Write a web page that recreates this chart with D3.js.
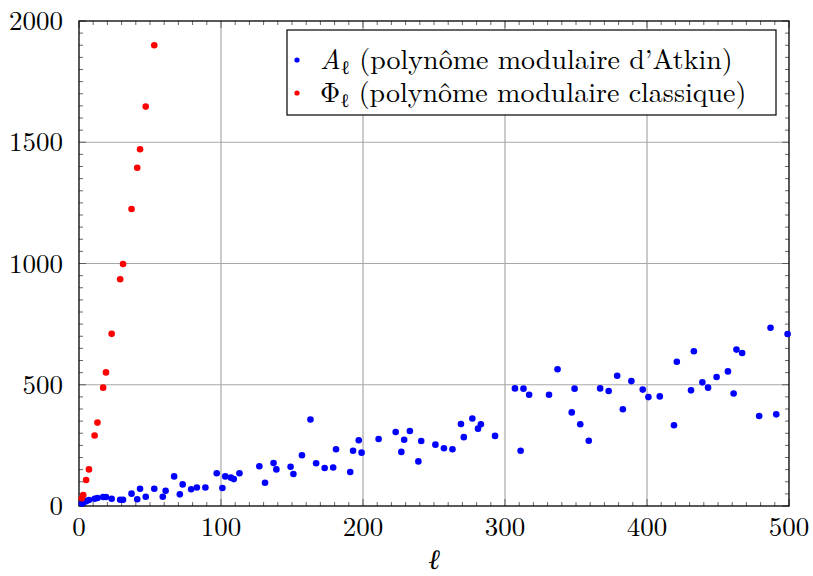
<!DOCTYPE html>
<html><head><meta charset="utf-8">
<script src="https://cdn.jsdelivr.net/npm/d3@7"></script>
<style>body{margin:0;background:#fff}svg{display:block}</style>
</head><body>
<svg id="c" width="813" height="576"></svg>
<script>
const atkinL = [2,3,5,7,11,13,17,19,23,29,
  31,37,41,43,47,53,59,61,67,71,
  73,79,83,89,97,101,103,107,109,113,
  127,131,137,139,149,151,157,163,167,173,
  179,181,191,193,197,199,211,223,227,229,
  233,239,241,251,257,263,269,271,277,281,
  283,293,307,311,313,317,331,337,347,349,
  353,359,367,373,379,383,389,397,401,409,
  419,421,431,433,439,443,449,457,461,463,
  467,479,487,491,499];
const atkinV = [10,14,20,25,30,33,37,37,30,26,
  26,51,28,71,38,71,38,63,122,48,
  89,69,76,76,135,74,122,117,111,135,
  164,96,177,151,162,132,209,357,176,157,
  159,234,140,228,271,220,276,305,223,273,
  309,184,268,253,238,234,338,284,361,319,
  337,289,485,228,484,459,459,564,386,484,
  337,269,485,474,537,399,515,480,449,452,
  333,595,477,638,510,488,532,555,464,645,
  631,371,735,378,709];
const phiL = [2,3,5,7,11,13,17,19,23,29,31,37,41,43,47,53];
const phiV = [32,45,107,151,291,344,488,551,710,935,998,1225,1395,1471,1647,1900];
const xTicks = [0,100,200,300,400,500];
const yTicks = [0,500,1000,1500,2000];

const svg = d3.select("#c");
const L = 79, R = 789, T = 21, B = 506;
const x = d3.scaleLinear().domain([0,500]).range([L,R]);
const y = d3.scaleLinear().domain([0,2000]).range([B,T]);
const font = "'Latin Modern Roman', 'Liberation Serif', serif";

// grid
const g = svg.append("g");
g.selectAll(".gx").data(xTicks.slice(1,-1)).join("line")
  .attr("x1",d=>x(d)).attr("x2",d=>x(d)).attr("y1",T).attr("y2",B)
  .attr("stroke","#a8a8a8").attr("stroke-width",1.2);
g.selectAll(".gy").data(yTicks.slice(1,-1)).join("line")
  .attr("y1",d=>y(d)).attr("y2",d=>y(d)).attr("x1",L).attr("x2",R)
  .attr("stroke","#a8a8a8").attr("stroke-width",1.2);

// ticks (inside, mirrored)
const xMinor = d3.range(0,501,10), yMinor = d3.range(0,2001,50);
const tk = svg.append("g").attr("stroke","#555").attr("stroke-width",0.9);
xMinor.forEach(v=>{
  const len = v%100===0 ? 7 : 4;
  tk.append("line").attr("x1",x(v)).attr("x2",x(v)).attr("y1",B).attr("y2",B-len);
  tk.append("line").attr("x1",x(v)).attr("x2",x(v)).attr("y1",T).attr("y2",T+len);
});
yMinor.forEach(v=>{
  const len = v%500===0 ? 7 : 4;
  tk.append("line").attr("y1",y(v)).attr("y2",y(v)).attr("x1",L).attr("x2",L+len);
  tk.append("line").attr("y1",y(v)).attr("y2",y(v)).attr("x1",R).attr("x2",R-len);
});

// frame
svg.append("rect").attr("x",L).attr("y",T).attr("width",R-L).attr("height",B-T)
  .attr("fill","none").attr("stroke","#000").attr("stroke-width",1.3);

// tick labels
svg.selectAll(".xl").data(xTicks).join("text")
  .attr("x",d=>x(d)).attr("y",B+30).attr("text-anchor","middle")
  .attr("font-family",font).attr("font-size",27).text(d=>d);
svg.selectAll(".yl").data(yTicks).join("text")
  .attr("x",L-16).attr("y",d=>y(d)+9).attr("text-anchor","end")
  .attr("font-family",font).attr("font-size",27).text(d=>d);

// axis label
svg.append("text").attr("x",(L+R)/2).attr("y",569).attr("text-anchor","middle")
  .attr("font-family",font).attr("font-size",28).attr("font-style","italic").text("ℓ");

// points
svg.append("g").selectAll("circle").data(atkinL.map((l,i)=>[l,atkinV[i]])).join("circle")
  .attr("cx",d=>x(d[0])).attr("cy",d=>y(d[1])).attr("r",3.3).attr("fill","#0000ff");
svg.append("g").selectAll("circle").data(phiL.map((l,i)=>[l,phiV[i]])).join("circle")
  .attr("cx",d=>x(d[0])).attr("cy",d=>y(d[1])).attr("r",3.3).attr("fill","#ff0000");

// legend
const lg = svg.append("g");
lg.append("rect").attr("x",287).attr("y",30).attr("width",489).attr("height",85)
  .attr("fill","#fff").attr("stroke","#000").attr("stroke-width",1.2);
const rows = [
  {c:"#0000ff", y:60, sym:"A", it:true, rest:" (polynôme modulaire d’Atkin)"},
  {c:"#ff0000", y:93, sym:"Φ", it:false, rest:" (polynôme modulaire classique)"}
];
rows.forEach(r=>{
  lg.append("circle").attr("cx",297).attr("cy",r.y).attr("r",2.6).attr("fill",r.c);
  const t = lg.append("text").attr("x",320).attr("y",r.y+9)
    .attr("font-family",font).attr("font-size",28);
  t.append("tspan").attr("font-style",r.it?"italic":"normal").text(r.sym);
  t.append("tspan").attr("font-size",19).attr("dy",5).text("ℓ");
  t.append("tspan").attr("dy",-5).text(r.rest);
});
</script>
</body></html>
